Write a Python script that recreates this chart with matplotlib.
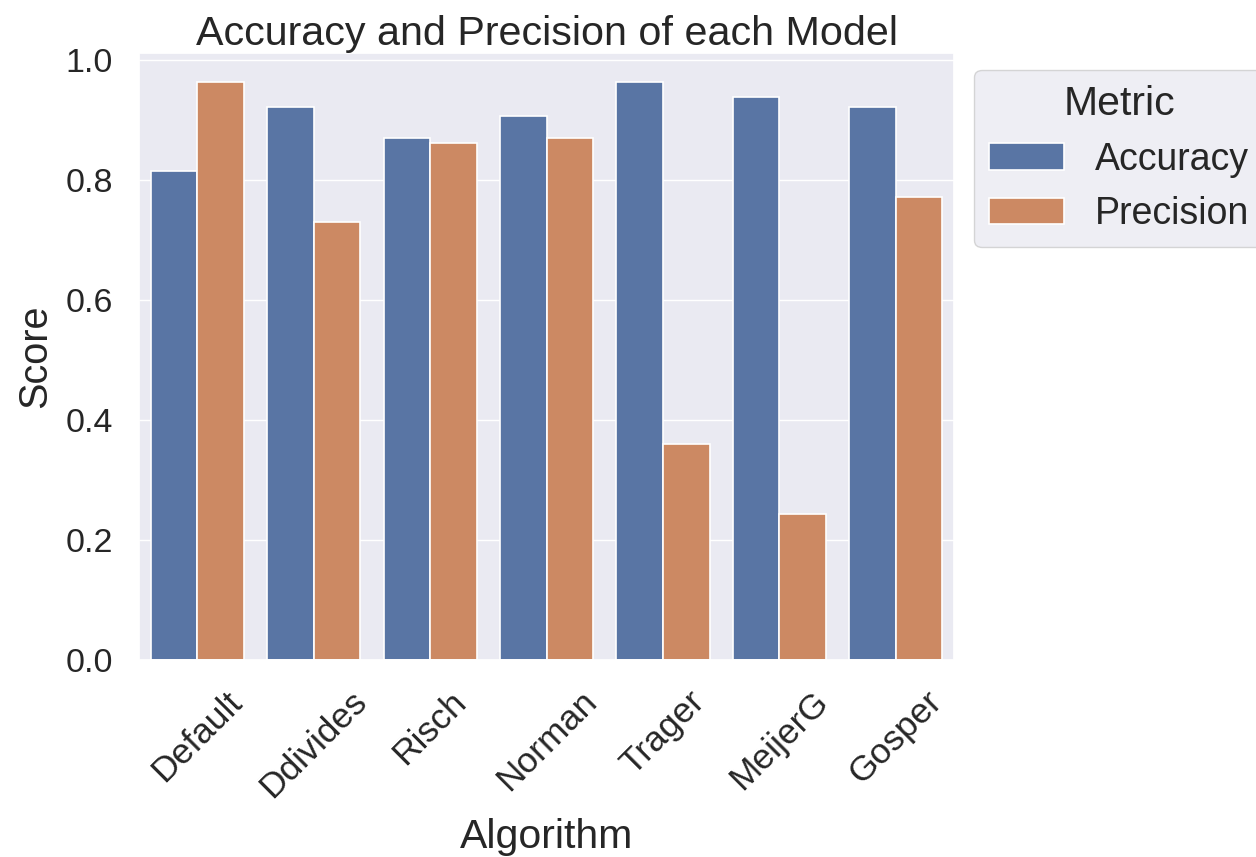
import pandas as pd
import matplotlib
matplotlib.use("Agg")
import matplotlib.pyplot as plt
import seaborn as sns

algorithms = ["Default", "Ddivides", "Risch", "Norman", "Trager", "MeijerG", "Gosper"]
accuracy = [0.815, 0.922, 0.870, 0.906, 0.963, 0.938, 0.922]
precision = [0.963, 0.730, 0.862, 0.870, 0.360, 0.244, 0.771]

df = pd.DataFrame({
    "Algorithm": algorithms * 2,
    "Score": accuracy + precision,
    "Metric": ["Accuracy"] * len(algorithms) + ["Precision"] * len(algorithms),
})

sns.set_theme(style="darkgrid")
plt.rcParams["font.family"] = ["Liberation Sans", "DejaVu Sans"]

fig = plt.figure(figsize=(12.56, 8.57), dpi=100)
ax = fig.add_axes([0.1107, 0.2299, 0.6489, 0.7078])

sns.barplot(data=df, x="Algorithm", y="Score", hue="Metric", ax=ax,
            edgecolor="white", linewidth=1.2)

ax.set_title("Accuracy and Precision of each Model", fontsize=29.7, pad=6)
ax.set_xlabel("Algorithm", fontsize=29.5, labelpad=10)
ax.set_ylabel("Score", fontsize=28.5, labelpad=8)
ax.tick_params(axis="y", labelsize=24.5, pad=13)
ax.tick_params(axis="x", labelsize=25.5, pad=12)
plt.setp(ax.get_xticklabels(), rotation=45)

leg = ax.legend(title="Metric", loc="upper left", bbox_to_anchor=(1.025, 0.973),
                borderaxespad=0, fontsize=27, title_fontsize=29.5)

fig.savefig("out.png", dpi=100)
